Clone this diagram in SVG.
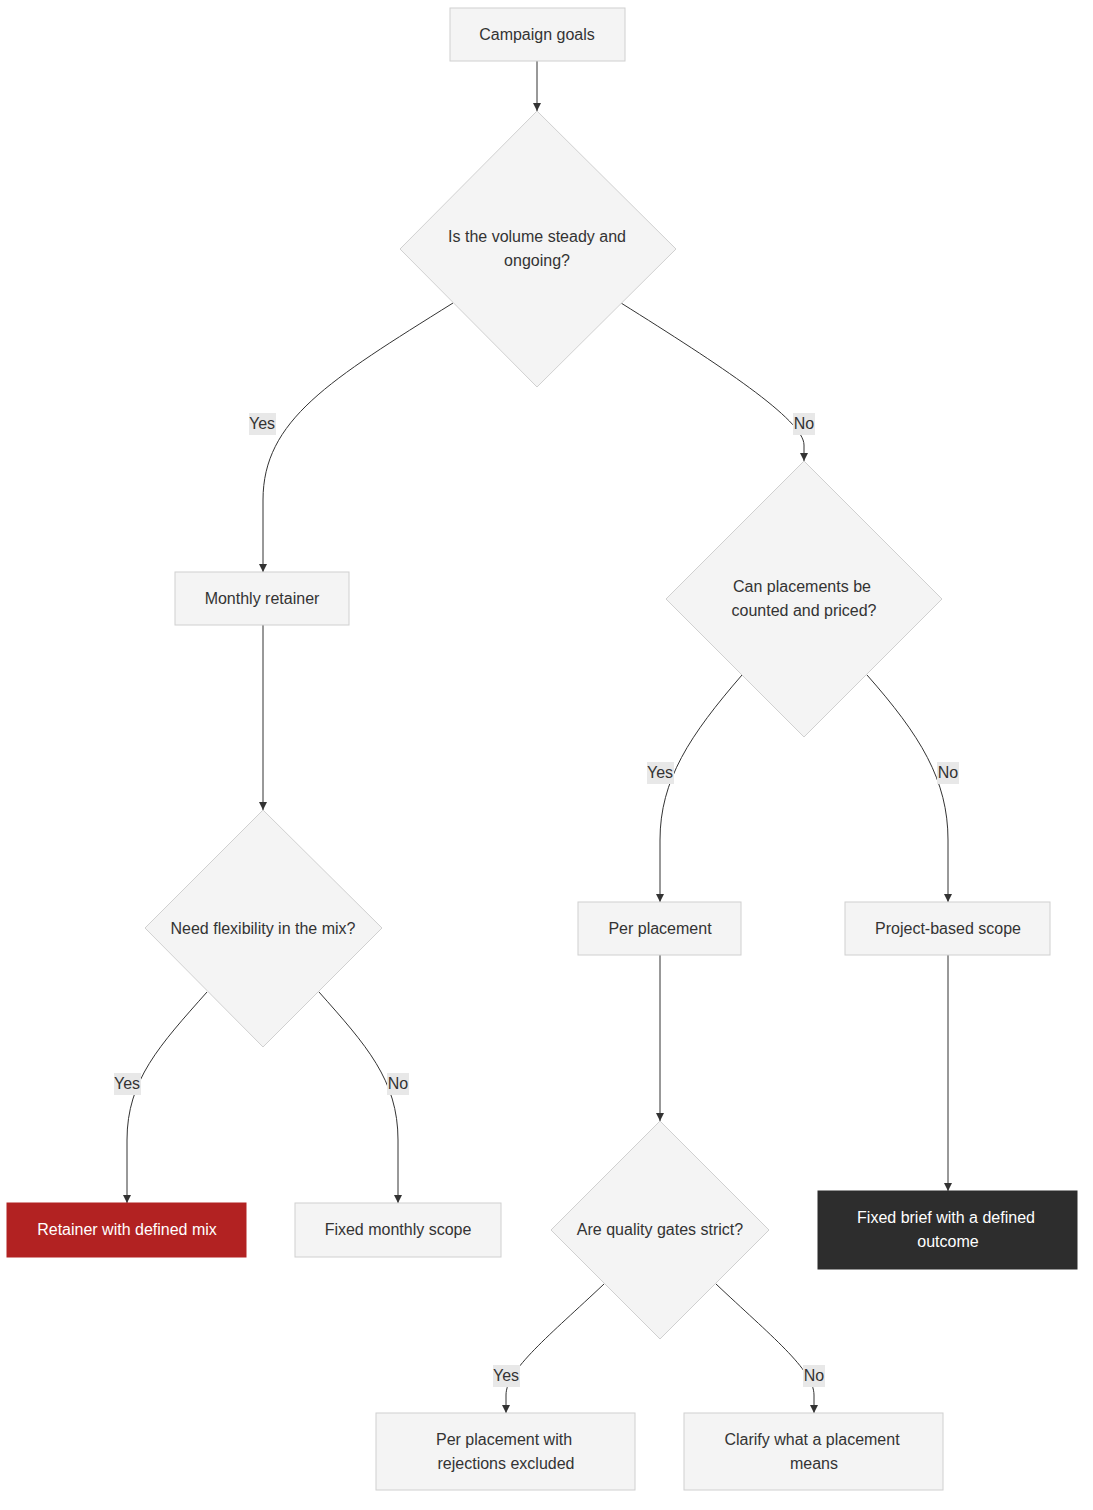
<svg xmlns="http://www.w3.org/2000/svg" width="1093" height="1510" viewBox="0 0 1093 1510">
<style>
.n{fill:#f4f4f4;stroke:#d0d0d0;stroke-width:1}
.t{font-family:"Liberation Sans",Arial,sans-serif;font-size:16px;fill:#333;text-anchor:middle}
.w{fill:#fff}
.e{fill:none;stroke:#333;stroke-width:1;marker-end:url(#a)}
.lb{fill:#e8e8e8}
</style>
<defs><marker id="a" viewBox="0 0 10 10" refX="10" refY="5" markerWidth="8" markerHeight="8" orient="auto"><path d="M0,0L10,5L0,10z" fill="#333"/></marker></defs>
<rect width="1093" height="1510" fill="#fff"/>
<g id="edges">
<path class="e" d="M537,61L537,111"/>
<path class="e" d="M453,303C330,380 263,420 263,500L263,572"/>
<path class="e" d="M621,303C720,365 804,420 804,445L804,461"/>
<path class="e" d="M263,625L263,810"/>
<path class="e" d="M742,675C690,735 660,780 660,840L660,902"/>
<path class="e" d="M867,675C920,735 948,780 948,840L948,902"/>
<path class="e" d="M207,992C160,1045 127,1080 127,1140L127,1203"/>
<path class="e" d="M319,992C366,1045 398,1080 398,1140L398,1203"/>
<path class="e" d="M660,955L660,1121"/>
<path class="e" d="M948,955L948,1191"/>
<path class="e" d="M604,1284C550,1335 506,1370 506,1395L506,1413"/>
<path class="e" d="M716,1284C770,1335 814,1370 814,1395L814,1413"/>
<rect class="lb" x="249" y="413" width="27" height="22"/><text class="t" x="262" y="429">Yes</text>
<rect class="lb" x="793" y="413" width="22" height="22"/><text class="t" x="804" y="429">No</text>
<rect class="lb" x="647" y="762" width="27" height="22"/><text class="t" x="660" y="778">Yes</text>
<rect class="lb" x="937" y="762" width="22" height="22"/><text class="t" x="948" y="778">No</text>
<rect class="lb" x="114" y="1073" width="27" height="22"/><text class="t" x="127" y="1089">Yes</text>
<rect class="lb" x="387" y="1073" width="22" height="22"/><text class="t" x="398" y="1089">No</text>
<rect class="lb" x="493" y="1365" width="27" height="22"/><text class="t" x="506" y="1381">Yes</text>
<rect class="lb" x="803" y="1365" width="22" height="22"/><text class="t" x="814" y="1381">No</text>
</g>
<g id="n1"><rect class="n" x="450" y="8" width="175" height="53"/><text class="t" x="537" y="40">Campaign goals</text></g>
<g id="n2"><polygon class="n" points="537,111 676,249 537,387 400,249"/><text class="t" x="537" y="242">Is the volume steady and</text><text class="t" x="537" y="266">ongoing?</text></g>
<g id="n3"><rect class="n" x="175" y="572" width="174" height="53"/><text class="t" x="262" y="604">Monthly retainer</text></g>
<g id="n4"><polygon class="n" points="804,461 942,599 804,737 666,599"/><text class="t" x="802" y="592">Can placements be</text><text class="t" x="804" y="616">counted and priced?</text></g>
<g id="n5"><polygon class="n" points="263,810 382,928 263,1047 145,928"/><text class="t" x="263" y="934">Need flexibility in the mix?</text></g>
<g id="n6"><rect class="n" x="578" y="902" width="163" height="53"/><text class="t" x="660" y="934">Per placement</text></g>
<g id="n7"><rect class="n" x="845" y="902" width="205" height="53"/><text class="t" x="948" y="934">Project-based scope</text></g>
<g id="n8"><rect x="7" y="1203" width="239" height="54" fill="#b22222" stroke="#b22222"/><text class="t w" x="127" y="1235">Retainer with defined mix</text></g>
<g id="n9"><rect class="n" x="295" y="1203" width="206" height="54"/><text class="t" x="398" y="1235">Fixed monthly scope</text></g>
<g id="n10"><polygon class="n" points="660,1121 769,1230 660,1339 551,1230"/><text class="t" x="660" y="1235">Are quality gates strict?</text></g>
<g id="n11"><rect x="818" y="1191" width="259" height="78" fill="#2d2d2d" stroke="#2d2d2d"/><text class="t w" x="946" y="1223">Fixed brief with a defined</text><text class="t w" x="948" y="1247">outcome</text></g>
<g id="n12"><rect class="n" x="376" y="1413" width="259" height="77"/><text class="t" x="504" y="1445">Per placement with</text><text class="t" x="506" y="1469">rejections excluded</text></g>
<g id="n13"><rect class="n" x="684" y="1413" width="259" height="77"/><text class="t" x="812" y="1445">Clarify what a placement</text><text class="t" x="814" y="1469">means</text></g>
</svg>
